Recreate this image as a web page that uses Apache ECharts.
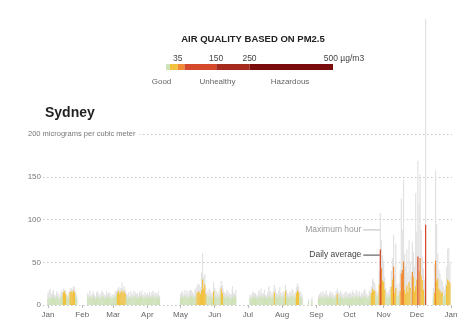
<!DOCTYPE html>
<html>
<head>
<meta charset="utf-8">
<script src="https://cdn.jsdelivr.net/npm/echarts@6/dist/echarts.min.js"></script>
<style>
  html, body { margin: 0; padding: 0; background: #fff; }
  #chart { width: 475px; height: 324px; }
</style>
</head>
<body>
<div id="chart"></div>
<script>
// Sydney PM2.5, 2019: daily average and highest hourly reading (µg/m3), one value per day.
const avgJan = [8,9,7,8,10,9,7,8,10,9,6,8,10,11,15,16,13,9,8,11,15,16,14,17,15,10,8,null,null,null,null];
const maxJan = [14,17,19,13,15,18,12,11,16,14,10,13,17,15,19,18,17,12,11,15,19,20,18,22,21,16,12,null,null,null,null];
const avgFeb = [null,null,null,null,null,9,8,10,7,9,11,8,6,9,10,8,7,9,11,10,8,7,9,8,10,9,7,8];
const maxFeb = [null,null,null,null,null,14,12,17,11,13,16,12,10,15,16,13,11,14,17,15,12,11,16,13,15,14,10,12];
const avgMar = [9,8,10,11,14,16,13,15,17,14,16,13,10,8,9,7,10,9,8,11,10,9,8,7,10,9,11,8,9,10,8];
const maxMar = [13,12,16,17,19,21,18,20,26,19,22,18,14,12,15,11,16,14,12,17,15,13,14,11,16,14,17,12,13,15,12];
const avgApr = [9,8,10,7,9,11,8,10,9,8,10,7,null,null,null,null,null,null,null,null,null,null,null,null,null,null,null,null,null,null];
const maxApr = [14,12,16,11,15,17,13,15,14,12,16,11,null,null,null,null,null,null,null,null,null,null,null,null,null,null,null,null,null,null];
const avgMay = [8,9,10,8,11,9,10,8,9,11,10,9,8,10,11,14,16,15,13,17,30,19,24,13,10,9,11,10,8,9,16];
const maxMay = [13,15,16,12,18,14,17,13,16,18,17,15,13,18,20,22,25,24,21,38,61,33,36,20,16,15,19,17,13,15,27];
const avgJun = [11,10,9,8,10,12,19,14,10,9,8,11,10,9,7,8,10,9,8,11,null,null,null,null,null,null,null,null,null,null];
const maxJun = [20,17,15,13,16,22,28,23,17,15,13,18,16,14,12,13,22,15,13,18,null,null,null,null,null,null,null,null,null,null];
const avgJul = [null,null,8,7,9,10,8,9,7,8,10,9,11,8,9,10,8,7,9,11,10,9,8,10,15,11,9,8,10,12,9];
const maxJul = [null,null,12,11,14,16,13,14,11,12,17,15,19,13,14,18,12,11,15,22,17,15,13,16,24,19,14,13,17,21,14];
const avgAug = [9,10,8,16,11,9,8,10,9,11,10,8,9,14,17,15,10,9,8,null,null,null,null,null,4,null,null,5,null,null,null];
const maxAug = [14,16,13,24,18,14,12,16,14,19,17,12,15,21,25,22,16,15,12,null,null,null,null,null,7,null,null,9,null,null,null];
const avgSep = [null,null,7,8,9,7,10,8,9,11,8,7,9,10,8,9,7,8,10,13,9,8,10,9,7,8,9,10,8,9];
const maxSep = [null,null,11,13,15,12,16,13,14,17,12,11,14,16,13,15,11,12,16,19,15,13,17,14,11,13,15,16,12,14];
const avgOct = [8,9,7,10,9,8,11,9,8,10,7,9,8,10,11,9,8,7,10,11,14,19,17,16,12,10,9,24,65,43,29];
const maxOct = [13,15,12,17,14,13,18,15,12,16,11,15,13,17,19,14,12,11,16,17,22,31,28,26,19,15,14,40,108,76,58];
const avgNov = [27,18,12,9,8,10,12,21,30,45,14,20,11,9,12,16,37,41,51,18,13,23,15,27,20,12,39,33,16,22];
const maxNov = [52,33,20,15,14,18,22,40,55,82,35,72,24,17,26,42,125,88,147,60,45,66,38,76,50,34,74,62,45,131];
const avgDec = [30,57,40,55,34,29,18,12,94,null,null,null,null,null,null,9,14,52,28,31,19,17,14,15,10,9,12,22,30,28,26];
const maxDec = [86,169,120,153,88,57,43,30,335,null,null,null,null,null,null,20,48,158,95,60,42,37,30,28,22,18,25,45,66,67,50];

// Month labels along the bottom, keyed to day-of-year.
const monthNames = ['Jan','Feb','Mar','Apr','May','Jun','Jul','Aug','Sep','Oct','Nov','Dec','Jan'];
const monthStarts = [0,31,59,90,120,151,181,212,243,273,304,334,365];
const yTicks = [0, 50, 100, 150, 200];

// Air-quality bands for the colour scale.
const bandBreaks = [0, 12, 35.4, 55.4, 150.4, 250.4, 500];
const bandColors = ['#cfe3b8', '#f2c23e', '#ef8b36', '#d4482b', '#a52a1e', '#7a0c0c'];
const scaleTickValues = [35, 150, 250];
const scaleLabelValues = [35, 150, 250, 500];

const FONT = 'Liberation Sans, Arial, sans-serif';
const dailyAvg = [].concat(avgJan, avgFeb, avgMar, avgApr, avgMay, avgJun, avgJul, avgAug, avgSep, avgOct, avgNov, avgDec);
const maxHour = [].concat(maxJan, maxFeb, maxMar, maxApr, maxMay, maxJun, maxJul, maxAug, maxSep, maxOct, maxNov, maxDec);

function bandColor(v) {
  for (let i = 1; i < bandBreaks.length; i++) {
    if (v <= bandBreaks[i]) return bandColors[i - 1];
  }
  return bandColors[bandColors.length - 1];
}

const maxData = [];
const avgData = [];
dailyAvg.forEach((v, d) => {
  if (maxHour[d] != null) maxData.push([d, maxHour[d]]);
  if (v != null) avgData.push({ value: [d, v], itemStyle: { color: bandColor(v) } });
});

const scaleSeries = bandColors.map((c, i) => ({
  type: 'bar', xAxisIndex: 1, yAxisIndex: 1, stack: 'scale', silent: true,
  barWidth: 6, itemStyle: { color: c },
  data: [bandBreaks[i + 1] - bandBreaks[i]]
}));

const chart = echarts.init(document.getElementById('chart'), null, { renderer: 'canvas' });
chart.setOption({
  animation: false,
  backgroundColor: '#fff',
  textStyle: { fontFamily: FONT },
  title: [
    { text: 'AIR QUALITY BASED ON PM2.5', left: 253, textAlign: 'center', top: 34, padding: 0,
      textStyle: { fontFamily: FONT, fontSize: 9.5, fontWeight: 'bold', color: '#222' } },
    { text: 'Sydney', left: 45, top: 106, padding: 0,
      textStyle: { fontFamily: FONT, fontSize: 14, fontWeight: 'bold', color: '#222' } },
    { text: '200 micrograms per cubic meter', left: 28, top: 130, padding: [0, 4, 0, 0],
      backgroundColor: '#fff',
      textStyle: { fontFamily: FONT, fontSize: 7.5, fontWeight: 'normal', color: '#777' } }
  ],
  grid: [
    { left: 43, right: 23, top: 134.4, bottom: 19 },
    { left: 166, width: 167, top: 64, height: 6 }
  ],
  xAxis: [
    { type: 'value', gridIndex: 0, min: -4.5, max: 365.9,
      axisLine: { show: false }, splitLine: { show: false },
      axisTick: { customValues: monthStarts, length: 3, lineStyle: { color: '#bbb' } },
      axisLabel: { customValues: monthStarts, margin: 6, fontSize: 8, color: '#666',
        formatter: v => monthNames[monthStarts.indexOf(v)] } },
    { type: 'value', gridIndex: 1, min: 0, max: 500, position: 'top',
      axisLine: { show: false }, axisTick: { show: false }, splitLine: { show: false },
      axisLabel: { customValues: scaleLabelValues, margin: 1, fontSize: 8.5, color: '#444',
        formatter: v => v === 500 ? '{u|500 µg/m3}' : String(v),
        rich: { u: { fontSize: 8.5, color: '#444', padding: [0, 0, 0, 22] } } } },
    { type: 'value', gridIndex: 1, min: 0, max: 500, position: 'bottom',
      axisLine: { show: false }, splitLine: { show: false }, axisLabel: { show: false },
      axisTick: { customValues: scaleTickValues, inside: true, length: 11, lineStyle: { color: '#333', width: 1 } } }
  ],
  yAxis: [
    { type: 'value', gridIndex: 0, min: yTicks[0], max: yTicks[yTicks.length - 1], interval: 50,
      axisLine: { show: false }, axisTick: { show: false },
      splitLine: { lineStyle: { color: '#c8c8c8', type: [1.5, 2.5] } },
      axisLabel: { margin: 2, fontSize: 8, color: '#777', formatter: v => v === 200 ? '' : String(v) } },
    { type: 'category', gridIndex: 1, data: ['pm'], show: false }
  ],
  series: [
    { name: 'Maximum hour', type: 'bar', xAxisIndex: 0, yAxisIndex: 0, barWidth: 1.2, barGap: '-100%',
      clip: false, silent: true, itemStyle: { color: '#e2e2e2' }, data: maxData },
    { name: 'Daily average', type: 'bar', xAxisIndex: 0, yAxisIndex: 0, barWidth: 1.2, barGap: '-100%',
      clip: false, silent: true, data: avgData }
  ].concat(scaleSeries)
});

// Annotations pointing at the late-October peak.
const noteDay = 301;
const pMax = chart.convertToPixel({ gridIndex: 0 }, [noteDay, 88]);
const pAvg = chart.convertToPixel({ gridIndex: 0 }, [noteDay, 58.5]);
chart.setOption({
  graphic: [
    { type: 'text', x: 161.5, y: 82, style: { text: 'Good', font: '8px ' + FONT, fill: '#666', align: 'center', verticalAlign: 'middle' } },
    { type: 'text', x: 217.5, y: 82, style: { text: 'Unhealthy', font: '8px ' + FONT, fill: '#666', align: 'center', verticalAlign: 'middle' } },
    { type: 'text', x: 290, y: 82, style: { text: 'Hazardous', font: '8px ' + FONT, fill: '#666', align: 'center', verticalAlign: 'middle' } },
    { type: 'line', shape: { x1: pMax[0] - 17, y1: pMax[1], x2: pMax[0], y2: pMax[1] }, style: { stroke: '#bbb', lineWidth: 1 } },
    { type: 'text', x: pMax[0] - 19, y: pMax[1], style: { text: 'Maximum hour', font: '8.5px ' + FONT, fill: '#999', align: 'right', verticalAlign: 'middle' } },
    { type: 'line', shape: { x1: pAvg[0] - 17, y1: pAvg[1], x2: pAvg[0], y2: pAvg[1] }, style: { stroke: '#444', lineWidth: 1 } },
    { type: 'text', x: pAvg[0] - 19, y: pAvg[1], style: { text: 'Daily average', font: '8.5px ' + FONT, fill: '#444', align: 'right', verticalAlign: 'middle' } }
  ]
});
</script>
</body>
</html>
